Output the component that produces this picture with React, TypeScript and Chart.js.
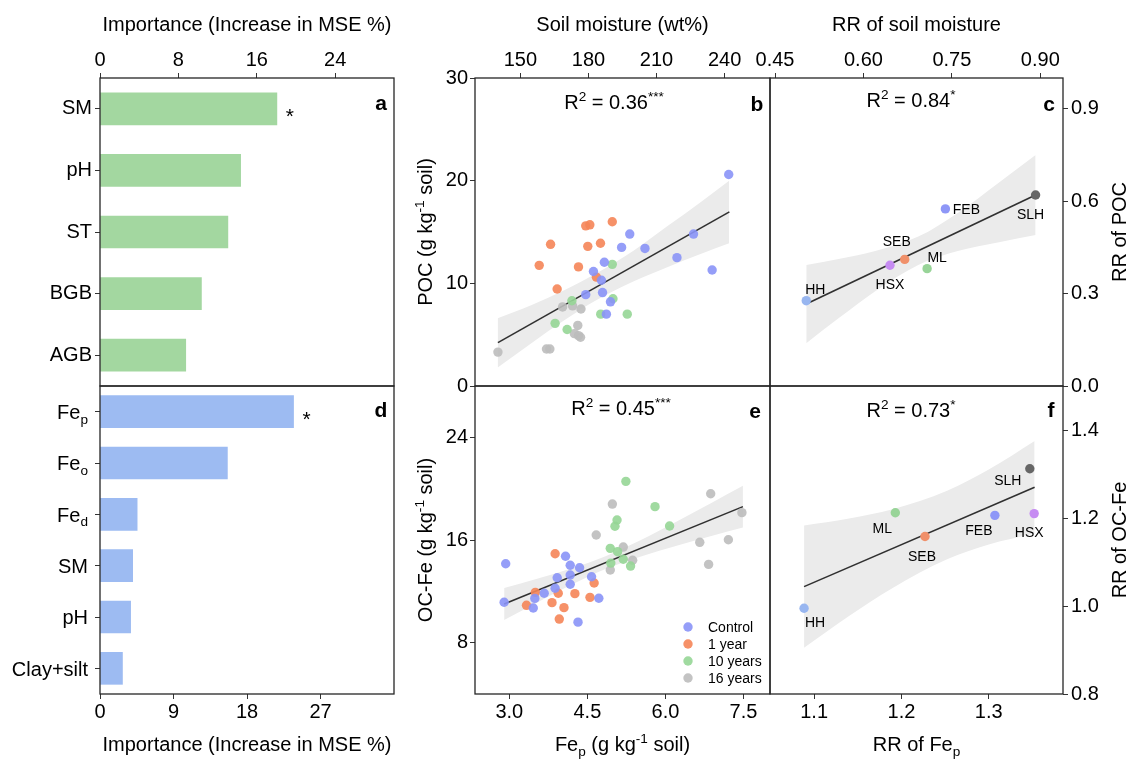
import React, { useEffect, useRef } from 'react';
import { Chart, registerables } from 'chart.js';

Chart.register(...registerables);

const FONT = "'Liberation Sans', Arial, Helvetica, sans-serif";
Chart.defaults.font.family = FONT;

// ---------------- DATA ----------------
// Panel a: random-forest importance for POC
const aCategories = ['SM', 'pH', 'ST', 'BGB', 'AGB'];
const aImportance = [18.05, 14.35, 13.05, 10.35, 8.75];
const aSignificant = [true, false, false, false, false];
const aTicks = [0, 8, 16, 24];

// Panel d: random-forest importance for OC-Fe
const dCategories = ['Fe_{p}', 'Fe_{o}', 'Fe_{d}', 'SM', 'pH', 'Clay+silt'];
const dImportance = [23.7, 15.6, 4.55, 4.0, 3.75, 2.75];
const dSignificant = [true, false, false, false, false, false];
const dTicks = [0, 9, 18, 27];

const groupNames = ['Control', '1 year', '10 years', '16 years'];

// Panel b: soil moisture (wt%) vs POC (g/kg)
const bControl: [number, number][] = [
  [241.8, 20.6], [198.2, 14.8], [194.6, 13.5], [204.9, 13.4], [226.3, 14.8], [219, 12.5], [234.5, 11.3],
  [187, 12.05], [182.2, 11.15], [185.7, 10.3], [186.2, 9.1], [178.8, 8.9], [189.7, 8.2], [187.9, 7.0],
];
const bYear1: [number, number][] = [
  [158.3, 11.75], [163.3, 13.8], [166.2, 9.45], [175.6, 11.6], [178.8, 15.6], [180.6, 15.7], [179.7, 13.6],
  [185.3, 13.9], [190.5, 16.0], [183.5, 10.6],
];
const bYear10: [number, number][] = [
  [165.3, 6.1], [170.6, 5.5], [172.7, 8.3], [190.5, 11.85], [190.8, 8.5], [185.4, 7.0], [197.1, 7.0],
];
const bYear16: [number, number][] = [
  [140.1, 3.3], [161.5, 3.6], [163, 3.6], [168.6, 7.7], [173, 7.8], [176.7, 7.5], [175.3, 5.9], [173.8, 5.1],
  [175.6, 4.9], [176.5, 4.75],
];
const bFitLine: [number, number][] = [[140.1, 4.22], [242.1, 16.96]];
const bBandX = [140, 155, 170, 183, 200, 215, 230, 242];
const bBandUpper = [6.6, 7.9, 9.4, 10.9, 13.2, 15.6, 18.0, 20.0];
const bBandLower = [1.8, 4.2, 6.5, 8.3, 10.2, 11.6, 12.9, 13.9];
const bXTicks = [150, 180, 210, 240];
const bYTicks = [0, 10, 20, 30];

// Panel e: Fe_p (g/kg) vs OC-Fe (g/kg)
const eControl: [number, number][] = [
  [2.93, 14.15], [2.9, 11.15], [3.46, 10.7], [3.49, 11.45], [3.67, 11.85], [3.88, 12.24], [3.92, 13.06],
  [4.08, 14.73], [4.17, 14.03], [4.17, 13.27], [4.17, 12.55], [4.35, 13.84], [4.32, 9.6], [4.58, 13.14], [4.72, 11.46],
];
const eYear1: [number, number][] = [
  [3.33, 10.91], [3.5, 11.92], [3.82, 11.12], [3.94, 11.85], [4.05, 10.73], [3.96, 9.84], [3.88, 14.93],
  [4.26, 11.82], [4.55, 11.53], [4.63, 12.65],
];
const eYear10: [number, number][] = [
  [5.24, 20.57], [5.8, 18.6], [5.07, 17.56], [5.03, 17.07], [6.08, 17.09], [4.94, 15.35], [5.08, 15.09],
  [4.95, 14.2], [5.19, 14.5], [5.33, 13.97],
];
const eYear16: [number, number][] = [
  [4.98, 18.8], [4.67, 16.39], [5.19, 15.45], [5.37, 14.42], [4.94, 13.66], [6.87, 19.6], [7.47, 18.13],
  [6.66, 15.82], [7.21, 16.02], [6.83, 14.1],
];
const eFitLine: [number, number][] = [[2.9, 11.01], [7.49, 18.6]];
const eBandX = [2.9, 3.5, 4.2, 4.85, 5.5, 6.2, 6.9, 7.49];
const eBandUpper = [12.26, 12.94, 13.79, 14.74, 15.94, 17.41, 18.93, 20.23];
const eBandLower = [9.76, 11.06, 12.53, 13.74, 14.68, 15.53, 16.33, 16.97];
const eXTicks = [3.0, 4.5, 6.0, 7.5];
const eYTicks = [8, 16, 24];

// Panels c and f: sites
const siteNames = ['HH', 'HSX', 'SEB', 'ML', 'FEB', 'SLH'];
const cRRSoilMoisture = [0.503, 0.645, 0.67, 0.708, 0.739, 0.892];
const cRRPOC = [0.277, 0.392, 0.411, 0.381, 0.575, 0.62];
const cFitLine: [number, number][] = [[0.503, 0.266], [0.892, 0.62]];
const cBandX = [0.503, 0.56, 0.62, 0.693, 0.76, 0.83, 0.892];
const cBandUpper = [0.393, 0.413, 0.438, 0.485, 0.562, 0.661, 0.75];
const cBandLower = [0.139, 0.223, 0.308, 0.393, 0.438, 0.467, 0.49];
const cXTicks = [0.45, 0.6, 0.75, 0.9];
const cYTicks = [0.0, 0.3, 0.6, 0.9];

const fRRFep = [1.0885, 1.352, 1.227, 1.193, 1.307, 1.347];
const fRROCFe = [0.995, 1.21, 1.158, 1.212, 1.206, 1.312];
const fFitLine: [number, number][] = [[1.0885, 1.044], [1.3525, 1.27]];
const fBandX = [1.0885, 1.14, 1.19, 1.2523, 1.3, 1.3525];
const fBandUpper = [1.183, 1.199, 1.22, 1.262, 1.31, 1.375];
const fBandLower = [0.905, 0.977, 1.041, 1.106, 1.14, 1.165];
const fXTicks = [1.1, 1.2, 1.3];
const fYTicks = [0.8, 1.0, 1.2, 1.4];

// ---------------- STYLE ----------------
const W = 1131;
const H = 760;
const BAR_GREEN = '#A3D7A0';
const BAR_BLUE = '#9DBBF2';
const BAND = '#EBEBEB';
const groupColors = ['rgba(137,147,247,0.9)', 'rgba(245,133,88,0.9)', 'rgba(150,214,150,0.9)', 'rgba(188,188,188,0.9)'];
const siteColors = ['#98B6F0', '#C68CF2', '#F0906A', '#98D498', '#8E97F7', '#666666'];
const cLabelOffsets: [number, number][] = [[9, -12], [0, 19], [-8, -18], [10, -12], [21, 0], [-5, 19]];
const fLabelOffsets: [number, number][] = [[11, 14], [-5, 18], [-3, 19], [-13, 15], [-16, 15], [-22, 11]];

type Rect = { l: number; t: number; r: number; b: number };
const RA: Rect = { l: 100, t: 78, r: 394, b: 386 };
const RD: Rect = { l: 100, t: 386, r: 394, b: 694 };
const RB: Rect = { l: 475, t: 78, r: 770, b: 386 };
const RE: Rect = { l: 475, t: 386, r: 770, b: 694 };
const RC: Rect = { l: 770, t: 78, r: 1063, b: 386 };
const RF: Rect = { l: 770, t: 386, r: 1063, b: 694 };

// ---------------- HELPERS ----------------
type Seg = { t: string; s?: 'sup' | 'sub' };
function parseRich(str: string): Seg[] {
  const out: Seg[] = [];
  let buf = '';
  let i = 0;
  while (i < str.length) {
    const c = str[i];
    if ((c === '^' || c === '_') && str[i + 1] === '{') {
      if (buf) { out.push({ t: buf }); buf = ''; }
      const end = str.indexOf('}', i + 2);
      out.push({ t: str.slice(i + 2, end), s: c === '^' ? 'sup' : 'sub' });
      i = end + 1;
    } else { buf += c; i++; }
  }
  if (buf) out.push({ t: buf });
  return out;
}

function drawRich(ctx: CanvasRenderingContext2D, str: string, x: number, y: number, size: number,
  align: 'left' | 'center' | 'right' = 'center', rot = 0, weight = 'normal', color = '#000') {
  const segs = parseRich(str);
  const small = size * 0.68;
  const fontOf = (sg: Seg) => `${weight} ${sg.s ? small : size}px ${FONT}`;
  const widths = segs.map((sg) => { ctx.font = fontOf(sg); return ctx.measureText(sg.t).width; });
  const total = widths.reduce((a, b) => a + b, 0);
  ctx.save();
  ctx.translate(x, y);
  if (rot) ctx.rotate(rot);
  ctx.fillStyle = color;
  ctx.textAlign = 'left';
  ctx.textBaseline = 'alphabetic';
  let cx = align === 'center' ? -total / 2 : align === 'right' ? -total : 0;
  const base = size * 0.36;
  segs.forEach((sg, i) => {
    ctx.font = fontOf(sg);
    const dy = sg.s === 'sup' ? -size * 0.4 : sg.s === 'sub' ? size * 0.24 : 0;
    ctx.fillText(sg.t, cx, base + dy);
    cx += widths[i];
  });
  ctx.restore();
}

function drawFrame(ctx: CanvasRenderingContext2D, chart: any) {
  const a = chart.chartArea;
  ctx.save();
  ctx.strokeStyle = '#262626';
  ctx.lineWidth = 1.3;
  ctx.strokeRect(a.left, a.top, a.right - a.left, a.bottom - a.top);
  ctx.restore();
}

function padFor(r: Rect, ax: { left?: number; top?: number; right?: number; bottom?: number }) {
  return {
    left: r.l - (ax.left || 0),
    top: r.t - (ax.top || 0),
    right: W - r.r - (ax.right || 0),
    bottom: H - r.b - (ax.bottom || 0),
  };
}

function linearAxis(position: string, min: number, max: number, ticks: number[], size: number,
  fmt: (v: number) => string, pad: number) {
  return {
    type: 'linear',
    position,
    min,
    max,
    afterBuildTicks: (s: any) => { s.ticks = ticks.map((v) => ({ value: v })); },
    afterFit: (s: any) => {
      if (position === 'left' || position === 'right') s.width = size; else s.height = size;
    },
    grid: { display: true, drawOnChartArea: false, drawTicks: true, tickLength: 5, color: '#333', lineWidth: 1 },
    border: { display: false },
    ticks: {
      color: '#000', font: { size: 20, family: FONT }, padding: pad, autoSkip: false, maxRotation: 0,
      callback: (v: any) => fmt(Number(v)),
    },
  };
}

function categoryAxis(size: number, pad: number, labels: string[] | null) {
  return {
    type: 'category',
    position: 'left',
    offset: true,
    afterFit: (s: any) => { s.width = size; },
    grid: { display: true, offset: false, drawOnChartArea: false, drawTicks: true, tickLength: 5, color: '#333', lineWidth: 1 },
    border: { display: false },
    ticks: {
      color: '#000', font: { size: 20, family: FONT }, padding: pad, autoSkip: false,
      callback: (_v: any, i: number) => (labels ? labels[i] : ''),
    },
  };
}

const overlay = (id: string, fn: (chart: any, ctx: CanvasRenderingContext2D) => void) => ({
  id,
  afterDraw(chart: any) {
    const ctx = chart.ctx as CanvasRenderingContext2D;
    ctx.save();
    fn(chart, ctx);
    ctx.restore();
  },
});

const baseOptions = {
  responsive: false,
  animation: false,
  events: [] as any[],
  plugins: { legend: { display: false }, tooltip: { enabled: false } },
};

// ---------------- BAR PANELS ----------------
function buildBar(canvas: HTMLCanvasElement, which: 'a' | 'd') {
  const isA = which === 'a';
  const rect = isA ? RA : RD;
  const cats = isA ? aCategories : dCategories;
  const vals = isA ? aImportance : dImportance;
  const sig = isA ? aSignificant : dSignificant;
  const yw = isA ? 60 : 95;
  return new Chart(canvas, {
    type: 'bar',
    data: {
      labels: cats,
      datasets: [{ data: vals, backgroundColor: isA ? BAR_GREEN : BAR_BLUE, borderWidth: 0, barThickness: 32 }],
    },
    options: {
      ...baseOptions,
      indexAxis: 'y',
      layout: { padding: padFor(rect, isA ? { left: yw, top: 45 } : { left: yw, bottom: 45 }) },
      scales: {
        x: linearAxis(isA ? 'top' : 'bottom', 0, isA ? 30 : 36, isA ? aTicks : dTicks, 45, (v) => String(v), 1),
        y: categoryAxis(yw, 3, isA ? cats : null),
      },
    } as any,
    plugins: [overlay('ov' + which, (chart, ctx) => {
      drawFrame(ctx, chart);
      const xs = chart.scales.x;
      const ys = chart.scales.y;
      if (!isA) {
        cats.forEach((c, i) => drawRich(ctx, c, rect.l - 12, ys.getPixelForTick(i), 20, 'right'));
      }
      vals.forEach((v, i) => {
        if (sig[i]) drawRich(ctx, '*', xs.getPixelForValue(v) + 13, ys.getPixelForTick(i) + 7, 21, 'center');
      });
      drawRich(ctx, which, rect.r - 13, isA ? 102 : 409, 21, 'center', 0, 'bold');
      drawRich(ctx, 'Importance (Increase in MSE %)', (rect.l + rect.r) / 2, isA ? 24 : 744, 20, 'center');
    })],
  });
}

// ---------------- SCATTER PANELS ----------------
interface ScatterCfg {
  id: string;
  rect: Rect;
  xPos: 'top' | 'bottom';
  yPos: 'left' | 'right';
  xMin: number; xMax: number; xTicks: number[]; xFmt: (v: number) => string;
  yMin: number; yMax: number; yTicks: number[]; yFmt: (v: number) => string;
  groups: { pts: [number, number][]; color: string }[];
  fitLine: [number, number][];
  bandX: number[]; bandUpper: number[]; bandLower: number[];
  draw: (chart: any, ctx: CanvasRenderingContext2D) => void;
}

function buildScatter(canvas: HTMLCanvasElement, cfg: ScatterCfg) {
  const datasets: any[] = cfg.groups.map((g) => ({
    data: g.pts.map(([x, y]) => ({ x, y })),
    showLine: false,
    pointRadius: 4.7,
    pointHoverRadius: 4.7,
    pointBackgroundColor: g.color,
    pointBorderWidth: 0,
    pointBorderColor: 'rgba(0,0,0,0)',
    order: 0,
  }));
  datasets.push({
    data: cfg.fitLine.map(([x, y]) => ({ x, y })),
    showLine: true, borderColor: '#303030', borderWidth: 1.6, pointRadius: 0, fill: false, order: 1,
  });
  datasets.push({
    data: cfg.bandX.map((x, i) => ({ x, y: cfg.bandUpper[i] })),
    showLine: true, borderWidth: 0, borderColor: 'rgba(0,0,0,0)', pointRadius: 0, fill: false, order: 2,
    cubicInterpolationMode: 'monotone',
  });
  datasets.push({
    data: cfg.bandX.map((x, i) => ({ x, y: cfg.bandLower[i] })),
    showLine: true, borderWidth: 0, borderColor: 'rgba(0,0,0,0)', pointRadius: 0, fill: '-1', backgroundColor: BAND,
    order: 2, cubicInterpolationMode: 'monotone',
  });
  const ax: any = {};
  ax[cfg.xPos] = 45;
  ax[cfg.yPos] = cfg.yPos === 'left' ? 45 : 50;
  return new Chart(canvas, {
    type: 'line',
    data: { datasets },
    options: {
      ...baseOptions,
      layout: { padding: padFor(cfg.rect, ax) },
      scales: {
        x: linearAxis(cfg.xPos, cfg.xMin, cfg.xMax, cfg.xTicks, 45, cfg.xFmt, 1),
        y: linearAxis(cfg.yPos, cfg.yMin, cfg.yMax, cfg.yTicks, cfg.yPos === 'left' ? 45 : 50, cfg.yFmt, cfg.yPos === 'left' ? 2 : 3),
      },
    } as any,
    plugins: [overlay('ov' + cfg.id, (chart, ctx) => {
      drawFrame(ctx, chart);
      cfg.draw(chart, ctx);
    })],
  });
}

function drawSiteLabels(chart: any, ctx: CanvasRenderingContext2D, xs: number[], ys: number[], offs: [number, number][]) {
  siteNames.forEach((n, i) => {
    const px = chart.scales.x.getPixelForValue(xs[i]);
    const py = chart.scales.y.getPixelForValue(ys[i]);
    drawRich(ctx, n, px + offs[i][0], py + offs[i][1], 14, 'center');
  });
}

const HALF_PI = Math.PI / 2;

function buildB(canvas: HTMLCanvasElement) {
  return buildScatter(canvas, {
    id: 'b', rect: RB, xPos: 'top', yPos: 'left',
    xMin: 130, xMax: 260, xTicks: bXTicks, xFmt: (v) => String(v),
    yMin: 0, yMax: 30, yTicks: bYTicks, yFmt: (v) => String(v),
    groups: [bControl, bYear1, bYear10, bYear16].map((pts, i) => ({ pts, color: groupColors[i] })),
    fitLine: bFitLine, bandX: bBandX, bandUpper: bBandUpper, bandLower: bBandLower,
    draw: (chart, ctx) => {
      drawRich(ctx, 'R^{2} = 0.36^{***}', 614, 102, 20, 'center');
      drawRich(ctx, 'b', 757, 103, 21, 'center', 0, 'bold');
      drawRich(ctx, 'Soil moisture (wt%)', (RB.l + RB.r) / 2, 24, 20, 'center');
      drawRich(ctx, 'POC (g kg^{-1} soil)', 425, (RB.t + RB.b) / 2, 20, 'center', -HALF_PI);
    },
  });
}

function buildE(canvas: HTMLCanvasElement) {
  return buildScatter(canvas, {
    id: 'e', rect: RE, xPos: 'bottom', yPos: 'left',
    xMin: 2.34, xMax: 8.01, xTicks: eXTicks, xFmt: (v) => v.toFixed(1),
    yMin: 4, yMax: 28, yTicks: eYTicks, yFmt: (v) => String(v),
    groups: [eControl, eYear1, eYear10, eYear16].map((pts, i) => ({ pts, color: groupColors[i] })),
    fitLine: eFitLine, bandX: eBandX, bandUpper: eBandUpper, bandLower: eBandLower,
    draw: (chart, ctx) => {
      drawRich(ctx, 'R^{2} = 0.45^{***}', 621, 408, 20, 'center');
      drawRich(ctx, 'e', 755, 410, 21, 'center', 0, 'bold');
      drawRich(ctx, 'Fe_{p} (g kg^{-1} soil)', (RE.l + RE.r) / 2, 744, 20, 'center');
      drawRich(ctx, 'OC-Fe (g kg^{-1} soil)', 425, (RE.t + RE.b) / 2, 20, 'center', -HALF_PI);
      groupNames.forEach((g, i) => {
        const y = 627 + i * 17;
        ctx.beginPath();
        ctx.arc(688, y, 4.7, 0, Math.PI * 2);
        ctx.fillStyle = groupColors[i];
        ctx.fill();
        drawRich(ctx, g, 708, y, 14, 'left');
      });
    },
  });
}

function buildC(canvas: HTMLCanvasElement) {
  return buildScatter(canvas, {
    id: 'c', rect: RC, xPos: 'top', yPos: 'right',
    xMin: 0.4415, xMax: 0.9385, xTicks: cXTicks, xFmt: (v) => v.toFixed(2),
    yMin: 0, yMax: 1.0, yTicks: cYTicks, yFmt: (v) => v.toFixed(1),
    groups: siteNames.map((_, i) => ({ pts: [[cRRSoilMoisture[i], cRRPOC[i]]] as [number, number][], color: siteColors[i] })),
    fitLine: cFitLine, bandX: cBandX, bandUpper: cBandUpper, bandLower: cBandLower,
    draw: (chart, ctx) => {
      drawSiteLabels(chart, ctx, cRRSoilMoisture, cRRPOC, cLabelOffsets);
      drawRich(ctx, 'R^{2} = 0.84^{*}', 911, 100, 20, 'center');
      drawRich(ctx, 'c', 1049, 103, 21, 'center', 0, 'bold');
      drawRich(ctx, 'RR of soil moisture', (RC.l + RC.r) / 2, 24, 20, 'center');
      drawRich(ctx, 'RR of POC', 1119, (RC.t + RC.b) / 2, 20, 'center', -HALF_PI);
    },
  });
}

function buildF(canvas: HTMLCanvasElement) {
  return buildScatter(canvas, {
    id: 'f', rect: RF, xPos: 'bottom', yPos: 'right',
    xMin: 1.0495, xMax: 1.385, xTicks: fXTicks, xFmt: (v) => v.toFixed(1),
    yMin: 0.8, yMax: 1.5, yTicks: fYTicks, yFmt: (v) => v.toFixed(1),
    groups: siteNames.map((_, i) => ({ pts: [[fRRFep[i], fRROCFe[i]]] as [number, number][], color: siteColors[i] })),
    fitLine: fFitLine, bandX: fBandX, bandUpper: fBandUpper, bandLower: fBandLower,
    draw: (chart, ctx) => {
      drawSiteLabels(chart, ctx, fRRFep, fRROCFe, fLabelOffsets);
      drawRich(ctx, 'R^{2} = 0.73^{*}', 911, 410, 20, 'center');
      drawRich(ctx, 'f', 1051, 409, 21, 'center', 0, 'bold');
      drawRich(ctx, 'RR of Fe_{p}', (RF.l + RF.r) / 2, 744, 20, 'center');
      drawRich(ctx, 'RR of OC-Fe', 1119, (RF.t + RF.b) / 2, 20, 'center', -HALF_PI);
    },
  });
}

// ---------------- COMPONENT ----------------
export default function App() {
  const canvases = useRef<(HTMLCanvasElement | null)[]>([]);
  useEffect(() => {
    const c = canvases.current;
    const charts = [
      buildBar(c[0]!, 'a'),
      buildBar(c[1]!, 'd'),
      buildB(c[2]!),
      buildE(c[3]!),
      buildC(c[4]!),
      buildF(c[5]!),
    ];
    return () => charts.forEach((ch) => ch.destroy());
  }, []);
  return (
    <div style={{ position: 'absolute', left: 0, top: 0, width: W, height: H, background: '#fff', overflow: 'hidden' }}>
      {[0, 1, 2, 3, 4, 5].map((i) => (
        <canvas
          key={i}
          ref={(el) => { canvases.current[i] = el; }}
          width={W}
          height={H}
          style={{ position: 'absolute', left: 0, top: 0, width: W, height: H }}
        />
      ))}
    </div>
  );
}
